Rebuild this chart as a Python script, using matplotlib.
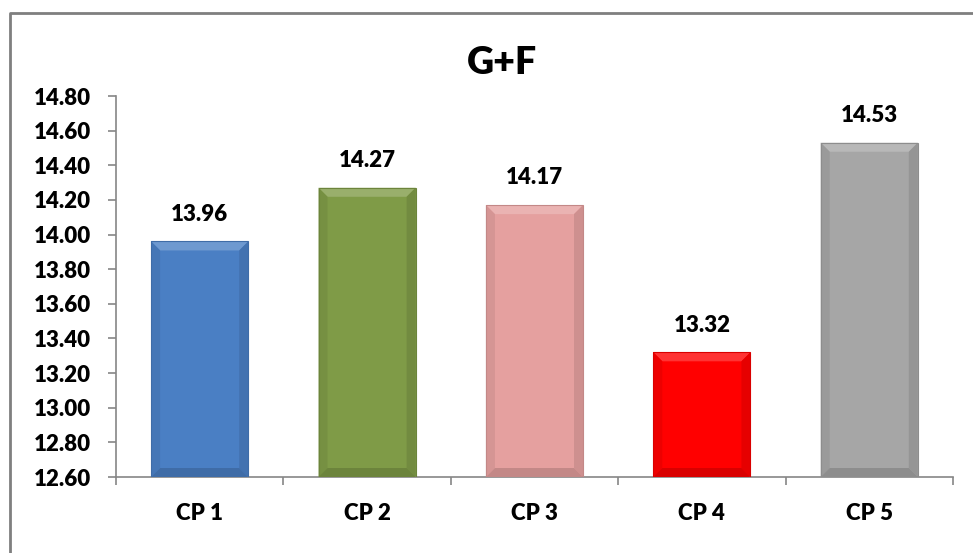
import matplotlib.pyplot as plt
from matplotlib.patches import Polygon
from matplotlib.lines import Line2D
import matplotlib.colors as mcolors

# chart data
categories = ["CP 1", "CP 2", "CP 3", "CP 4", "CP 5"]
values = [13.96, 14.27, 14.17, 13.32, 14.53]
bar_colors = ["#4a7fc4", "#7f9b47", "#e5a09f", "#ff0000", "#a6a6a6"]
y_ticks = [12.6 + 0.2 * i for i in range(12)]

plt.rcParams['font.family'] = ['Lato', 'DejaVu Sans']
plt.rcParams['font.weight'] = 'heavy'

fig = plt.figure(figsize=(9.73, 5.53), dpi=100)
ax = fig.add_axes([0.1192, 0.1374, 0.8602, 0.689])

ymin, ymax = 12.6, 14.8
bars = ax.bar(range(len(values)), [v - ymin for v in values], width=0.58, bottom=ymin,
              color=bar_colors, edgecolor='none', zorder=2)

ax.set_xlim(-0.5, len(values) - 0.5)
ax.set_ylim(ymin, ymax)

# bevel effect, size in pixels converted to data units
ax_w_px = 0.8602 * 973
ax_h_px = 0.689 * 553
bx = 9 / ax_w_px * len(values)
by = 9 / ax_h_px * (ymax - ymin)

def shade(c, f):
    r, g, b = mcolors.to_rgb(c)
    if f > 1:
        return (r + (1 - r) * (f - 1), g + (1 - g) * (f - 1), b + (1 - b) * (f - 1))
    return (r * f, g * f, b * f)

for b, c in zip(bars, bar_colors):
    x0 = b.get_x()
    x1 = x0 + b.get_width()
    y0 = b.get_y()
    y1 = y0 + b.get_height()
    top = [(x0, y1), (x1, y1), (x1 - bx, y1 - by), (x0 + bx, y1 - by)]
    left = [(x0, y0), (x0, y1), (x0 + bx, y1 - by), (x0 + bx, y0 + by)]
    right = [(x1, y0), (x1, y1), (x1 - bx, y1 - by), (x1 - bx, y0 + by)]
    bot = [(x0, y0), (x1, y0), (x1 - bx, y0 + by), (x0 + bx, y0 + by)]
    ax.add_patch(Polygon(top, closed=True, color=shade(c, 1.2), lw=0, zorder=3))
    ax.add_patch(Polygon(left, closed=True, color=shade(c, 0.93), lw=0, zorder=3))
    ax.add_patch(Polygon(right, closed=True, color=shade(c, 0.9), lw=0, zorder=3))
    ax.add_patch(Polygon(bot, closed=True, color=shade(c, 0.85), lw=0, zorder=3))
    ax.add_patch(Polygon([(x0, y0), (x0, y1), (x1, y1), (x1, y0)], closed=True,
                         fill=False, edgecolor=shade(c, 0.85), lw=0.8, zorder=4))

for i, v in enumerate(values):
    ax.annotate(f"{v:.2f}", (i, v), xytext=(0, 12), textcoords='offset points',
                ha='center', va='bottom', fontsize=16, fontweight='heavy')

ax.set_yticks(y_ticks)
ax.set_yticklabels([f"{t:.2f}" for t in y_ticks])
ax.set_xticks(range(len(categories)))
ax.set_xticklabels(categories)
ax.set_xticks([i - 0.5 for i in range(len(categories) + 1)], minor=True)
ax.tick_params(axis='x', which='major', length=0, pad=19, labelsize=16)
ax.tick_params(axis='x', which='minor', length=6, color='#868686', width=1.2)
ax.tick_params(axis='y', length=6, color='#868686', width=1.2, pad=12, labelsize=16)
for lbl in ax.get_xticklabels() + ax.get_yticklabels():
    lbl.set_fontweight('heavy')

for s in ['top', 'right']:
    ax.spines[s].set_visible(False)
for s in ['left', 'bottom']:
    ax.spines[s].set_color('#868686')
    ax.spines[s].set_linewidth(1.2)

fig.text(0.516, 0.886, "G+F", ha='center', va='center', fontsize=27, fontweight='heavy')

# outer chart frame (cropped at right and bottom)
fig.add_artist(Line2D([0.0103, 0.0103, 1.0], [0.0, 0.9765, 0.9765],
                      transform=fig.transFigure, color='#7f7f7f', lw=2))

fig.savefig("out.png", dpi=100)
